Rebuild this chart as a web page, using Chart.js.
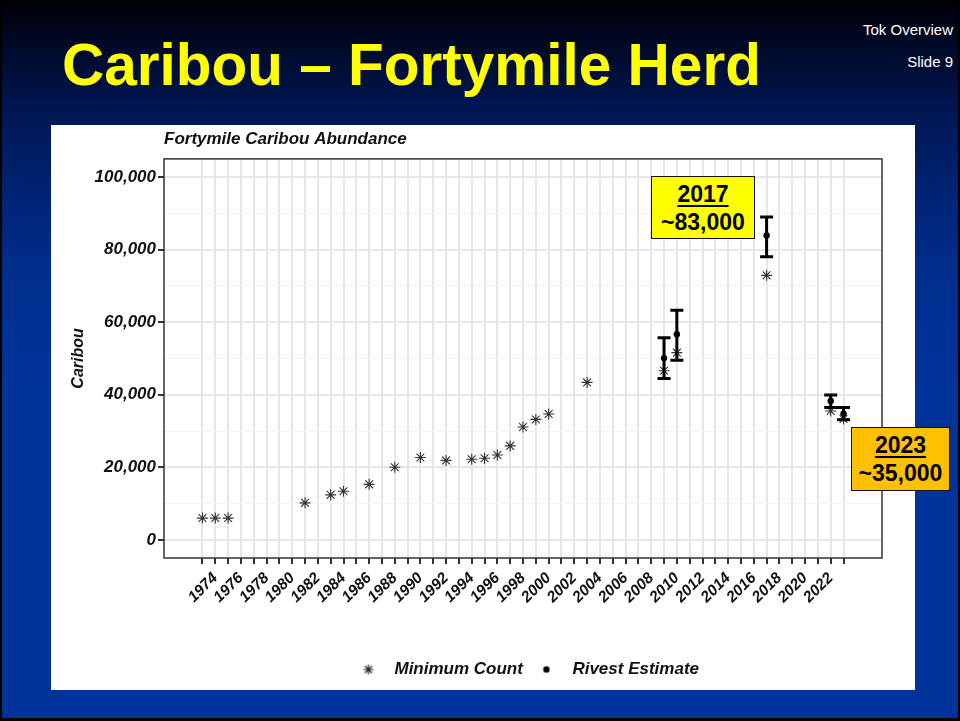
<!DOCTYPE html>
<html>
<head>
<meta charset="utf-8">
<title>Caribou – Fortymile Herd</title>
<script src="https://cdn.jsdelivr.net/npm/chart.js@4.4.1/dist/chart.umd.min.js"></script>
<style>
  html, body { margin: 0; padding: 0; background: #000; }
  body { width: 960px; height: 721px; position: relative; overflow: hidden;
         font-family: "Liberation Sans", Arial, sans-serif; }
  #slide { position: absolute; left: 2px; top: 0; width: 956px; height: 718px;
           background: linear-gradient(180deg, #000005 0px, #00030f 13px, #000a2a 50px,
                       #001652 110px, #002373 190px, #002e90 280px, #003399 380px, #003399 100%); }
  #title { position: absolute; left: 62px; top: 35px; margin: 0; font-size: 58.5px; line-height: 59px;
           font-weight: bold; color: #ffff00; white-space: nowrap; }
  .corner { position: absolute; right: 7px; color: #fff; font-size: 15px; line-height: 18px; }
  #panel { position: absolute; left: 51px; top: 125px; width: 864px; height: 565px; background: #fff; }
  #panel canvas { display: block; }
  .note { position: absolute; box-sizing: border-box; border: 1px solid #111; text-align: center;
          font-weight: bold; font-size: 23px; line-height: 28px; color: #000; padding-top: 3px; }
  .note u { text-decoration-thickness: 2px; text-underline-offset: 3px; }
  #note2017 { left: 651px; top: 176px; width: 104px; height: 63px; background: #ffff00; }
  #note2023 { left: 851px; top: 427px; width: 99px; height: 64px; background: #ffc000; }
</style>
</head>
<body>
<div id="slide"></div>
<h1 id="title">Caribou – Fortymile Herd</h1>
<div class="corner" style="top:21px">Tok Overview</div>
<div class="corner" style="top:53px">Slide 9</div>
<div id="panel"><canvas id="herdChart" width="864" height="565"></canvas></div>
<div class="note" id="note2017"><u>2017</u><br>~83,000</div>
<div class="note" id="note2023"><u>2023</u><br>~35,000</div>

<script>
// minimum counts (asterisks)
const countYears  = [1973, 1974, 1975, 1981, 1983, 1984, 1986, 1988, 1990, 1992, 1994, 1995,
                     1996, 1997, 1998, 1999, 2000, 2003, 2009, 2010, 2017, 2022, 2023];
const countValues = [6000, 6000, 6000, 10200, 12400, 13400, 15300, 20000, 22700, 21900, 22200, 22500,
                     23400, 25900, 31100, 33200, 34700, 43400, 46600, 51600, 72900, 35500, 33300];

// Rivest estimates with their intervals
const estYears  = [2009, 2010, 2017, 2022, 2023];
const estValues = [50100, 56700, 83900, 38300, 34800];
const estLow    = [44500, 49500, 78000, 36500, 33100];
const estHigh   = [55700, 63300, 89000, 39900, 36500];

// axes
const firstTickYear = 1973;
const lastTickYear  = 2023;
const xLabelYears = [1974, 1976, 1978, 1980, 1982, 1984, 1986, 1988, 1990, 1992, 1994, 1996, 1998,
                     2000, 2002, 2004, 2006, 2008, 2010, 2012, 2014, 2016, 2018, 2020, 2022];
const yMajorTicks = [0, 20000, 40000, 60000, 80000, 100000];
const yMinorTicks = [10000, 30000, 50000, 70000, 90000];

const yearTicks = [];
for (let yr = firstTickYear; yr <= lastTickYear; yr++) yearTicks.push(yr);
const yAllTicks = yMajorTicks.concat(yMinorTicks).sort((a, b) => a - b);
const isMajor = v => yMajorTicks.includes(v);

const FONT = '"Liberation Sans", Arial, sans-serif';
const INK = '#111';

// legend symbols, drawn a bit left of centre so the text sits further away
function legendIcon(kind) {
  const c = document.createElement('canvas');
  c.width = 30; c.height = 20;
  const g = c.getContext('2d');
  const cx = 6, cy = 10;
  if (kind === 'star') {
    g.strokeStyle = '#222'; g.lineWidth = 1.2;
    g.beginPath();
    const r = 5;
    for (let k = 0; k < 4; k++) {
      const a = k * Math.PI / 4;
      g.moveTo(cx - r * Math.cos(a), cy - r * Math.sin(a));
      g.lineTo(cx + r * Math.cos(a), cy + r * Math.sin(a));
    }
    g.stroke();
  } else {
    g.fillStyle = '#000';
    g.beginPath(); g.arc(cx, cy, 3.2, 0, Math.PI * 2); g.fill();
  }
  return c;
}
const legendIcons = [legendIcon('star'), legendIcon('dot')];

const panelBorder = {
  id: 'panelBorder',
  beforeDatasetsDraw(chart) {
    const { ctx, chartArea: a } = chart;
    ctx.save();
    ctx.strokeStyle = '#333';
    ctx.lineWidth = 1.5;
    ctx.strokeRect(a.left, a.top, a.right - a.left, a.bottom - a.top);
    ctx.restore();
  }
};

// vertical interval with caps, drawn between the two scatter layers
const errorBars = {
  id: 'errorBars',
  afterDatasetDraw(chart, args) {
    if (args.index !== 0) return;
    const { ctx, scales: { x, y } } = chart;
    const cap = 6.5;
    ctx.save();
    ctx.strokeStyle = '#000';
    ctx.lineWidth = 3;
    estYears.forEach((yr, i) => {
      const px = x.getPixelForValue(yr);
      const hi = y.getPixelForValue(estHigh[i]);
      const lo = y.getPixelForValue(estLow[i]);
      ctx.beginPath();
      ctx.moveTo(px, hi); ctx.lineTo(px, lo);
      ctx.moveTo(px - cap, hi); ctx.lineTo(px + cap, hi);
      ctx.moveTo(px - cap, lo); ctx.lineTo(px + cap, lo);
      ctx.stroke();
    });
    ctx.restore();
  }
};

// ggplot centres its legend a little right of the panel middle
const legendNudge = {
  id: 'legendNudge',
  afterLayout(chart) {
    if (!chart.legend) return;
    chart.legend.left += 11;
    chart.legend.right += 11;
  }
};

new Chart(document.getElementById('herdChart'), {
  type: 'scatter',
  data: {
    datasets: [
      {
        label: 'Minimum Count',
        data: countYears.map((yr, i) => ({ x: yr, y: countValues[i] })),
        pointStyle: 'star',
        pointRadius: 5.5,
        pointHoverRadius: 5.5,
        borderColor: '#333',
        backgroundColor: '#333',
        borderWidth: 1.1,
      },
      {
        label: 'Rivest Estimate',
        data: estYears.map((yr, i) => ({ x: yr, y: estValues[i] })),
        pointStyle: 'circle',
        pointRadius: 3.2,
        pointHoverRadius: 3.2,
        borderColor: '#000',
        backgroundColor: '#000',
        borderWidth: 0,
      },
    ],
  },
  options: {
    responsive: false,
    animation: false,
    events: [],
    layout: { padding: { left: 14, right: 33, top: 0, bottom: 2 } },
    plugins: {
      title: {
        display: true,
        text: 'Fortymile Caribou Abundance',
        align: 'start',
        fullSize: false,
        color: INK,
        font: { family: FONT, size: 17, weight: 'bold', style: 'italic' },
        padding: { top: 4, bottom: 9.5 },
      },
      legend: {
        position: 'bottom',
        fullSize: false,
        labels: {
          usePointStyle: true,
          padding: 24,
          color: INK,
          font: { family: FONT, size: 17, weight: 'bold', style: 'italic' },
          generateLabels(chart) {
            return Chart.defaults.plugins.legend.labels.generateLabels(chart)
              .map(item => ({ ...item, pointStyle: legendIcons[item.datasetIndex] }));
          },
        },
      },
      tooltip: { enabled: false },
    },
    scales: {
      x: {
        type: 'linear',
        min: 1970,
        max: 2026,
        afterBuildTicks: s => { s.ticks = yearTicks.map(v => ({ value: v })); },
        afterFit: s => { s.height = 79; },
        border: { display: false },
        grid: {
          color: '#e6e6e6',
          lineWidth: 2,
          drawTicks: true,
          tickLength: 6,
          tickWidth: 2,
          tickColor: '#333',
        },
        ticks: {
          autoSkip: false,
          minRotation: 45,
          maxRotation: 45,
          padding: 5,
          color: INK,
          font: { family: FONT, size: 15.5, weight: 'bold', style: 'italic' },
          callback: v => xLabelYears.includes(v) ? String(v) : '',
        },
      },
      y: {
        type: 'linear',
        min: -5000,
        max: 105000,
        afterBuildTicks: s => { s.ticks = yAllTicks.map(v => ({ value: v })); },
        afterFit: s => { s.width = 99; },
        border: { display: false },
        grid: {
          color: c => isMajor(c.tick.value) ? '#e6e6e6' : '#f2f2f2',
          lineWidth: c => isMajor(c.tick.value) ? 2 : 1,
          drawTicks: true,
          tickLength: 6,
          tickWidth: 2,
          tickColor: c => isMajor(c.tick.value) ? '#333' : 'rgba(0,0,0,0)',
        },
        ticks: {
          autoSkip: false,
          padding: 2,
          color: INK,
          font: { family: FONT, size: 17, weight: 'bold', style: 'italic' },
          callback: v => isMajor(v) ? v.toLocaleString('en-US') : '',
        },
        title: {
          display: true,
          text: 'Caribou',
          color: INK,
          font: { family: FONT, size: 16, weight: 'bold', style: 'italic' },
          padding: { top: 4, bottom: 0 },
        },
      },
    },
  },
  plugins: [panelBorder, errorBars, legendNudge],
});
</script>
</body>
</html>
